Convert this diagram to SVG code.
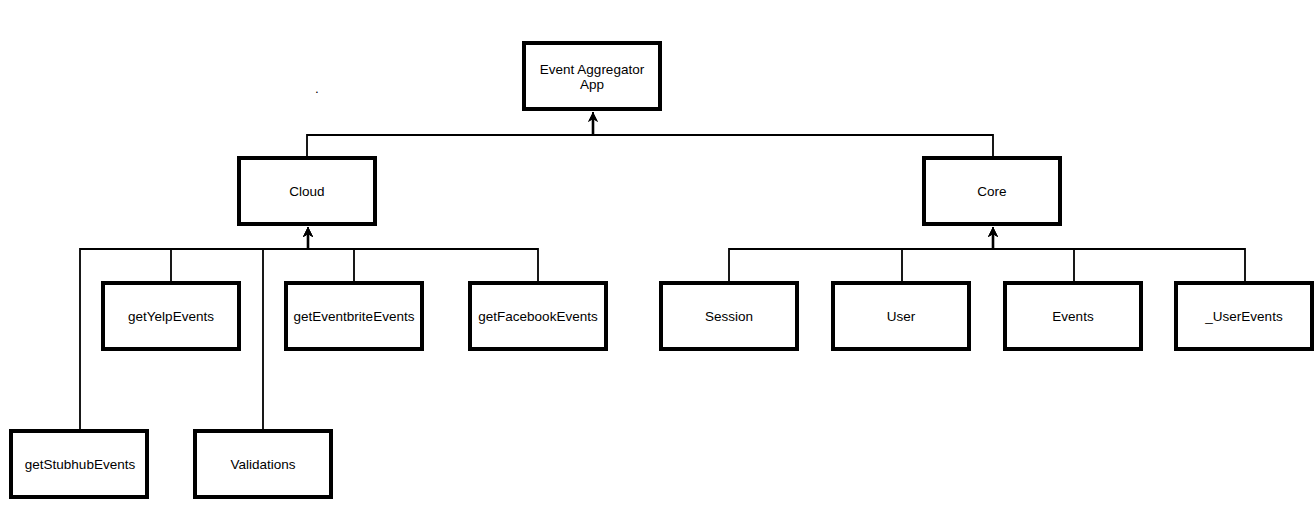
<svg xmlns="http://www.w3.org/2000/svg" width="1316" height="522" viewBox="0 0 1316 522">
<style>
.box{fill:#fff;stroke:#000;stroke-width:4}
.lbl{font-family:"Liberation Sans",Arial,Helvetica,sans-serif;font-size:13.5px;fill:#000;text-anchor:middle}
.edge{fill:none;stroke:#000;stroke-width:1.8}
.trunk{fill:none;stroke:#000;stroke-width:2.6}
</style>
<defs>
<marker id="arr" markerUnits="userSpaceOnUse" markerWidth="11" markerHeight="11" refX="10" refY="5" orient="auto">
<path d="M0,0 L10,5 L0,10 L3,5 z" fill="#000"/>
</marker>
</defs>
<rect width="1316" height="522" fill="#fff"/>
<g id="connectors">
<path class="edge" d="M307,156 V135 H593 V112" marker-end="url(#arr)"/>
<path class="edge" d="M993,156 V135 H593 V112" marker-end="url(#arr)"/>
<path class="edge" d="M80,429 V249 H308 V227" marker-end="url(#arr)"/>
<path class="edge" d="M171,281 V249 H308 V227" marker-end="url(#arr)"/>
<path class="edge" d="M263,429 V249 H308 V227" marker-end="url(#arr)"/>
<path class="edge" d="M354,281 V249 H308 V227" marker-end="url(#arr)"/>
<path class="edge" d="M538,281 V249 H308 V227" marker-end="url(#arr)"/>
<path class="edge" d="M729,281 V249 H993 V227" marker-end="url(#arr)"/>
<path class="edge" d="M902,281 V249 H993 V227" marker-end="url(#arr)"/>
<path class="edge" d="M1074,281 V249 H993 V227" marker-end="url(#arr)"/>
<path class="edge" d="M1245,281 V249 H993 V227" marker-end="url(#arr)"/>
<path class="trunk" d="M308,249.5 V233"/>
<path class="trunk" d="M993,249.5 V233"/>
<path class="trunk" d="M593,135.5 V118"/>
</g>
<g id="app"><rect class="box" x="524" y="43" width="136" height="66"/><text class="lbl" x="592" y="74">Event Aggregator</text><text class="lbl" x="592" y="89">App</text></g>
<g id="cloud"><rect class="box" x="239" y="158" width="136" height="66"/><text class="lbl" x="307" y="196">Cloud</text></g>
<g id="core"><rect class="box" x="924" y="158" width="136" height="66"/><text class="lbl" x="992" y="196">Core</text></g>
<g id="getYelpEvents"><rect class="box" x="103" y="283" width="136" height="66"/><text class="lbl" x="171" y="321">getYelpEvents</text></g>
<g id="getEventbriteEvents"><rect class="box" x="286" y="283" width="136" height="66"/><text class="lbl" x="354" y="321">getEventbriteEvents</text></g>
<g id="getFacebookEvents"><rect class="box" x="470" y="283" width="136" height="66"/><text class="lbl" x="538" y="321">getFacebookEvents</text></g>
<g id="getStubhubEvents"><rect class="box" x="11" y="431" width="136" height="66"/><text class="lbl" x="80" y="469">getStubhubEvents</text></g>
<g id="validations"><rect class="box" x="195" y="431" width="136" height="66"/><text class="lbl" x="263" y="469">Validations</text></g>
<g id="session"><rect class="box" x="661" y="283" width="136" height="66"/><text class="lbl" x="729" y="321">Session</text></g>
<g id="user"><rect class="box" x="833" y="283" width="136" height="66"/><text class="lbl" x="901" y="321">User</text></g>
<g id="events"><rect class="box" x="1005" y="283" width="136" height="66"/><text class="lbl" x="1073" y="321">Events</text></g>
<g id="userEvents"><rect class="box" x="1176" y="283" width="136" height="66"/><text class="lbl" x="1244" y="321">_UserEvents</text></g>
<text class="lbl" x="317" y="93">.</text>
</svg>
